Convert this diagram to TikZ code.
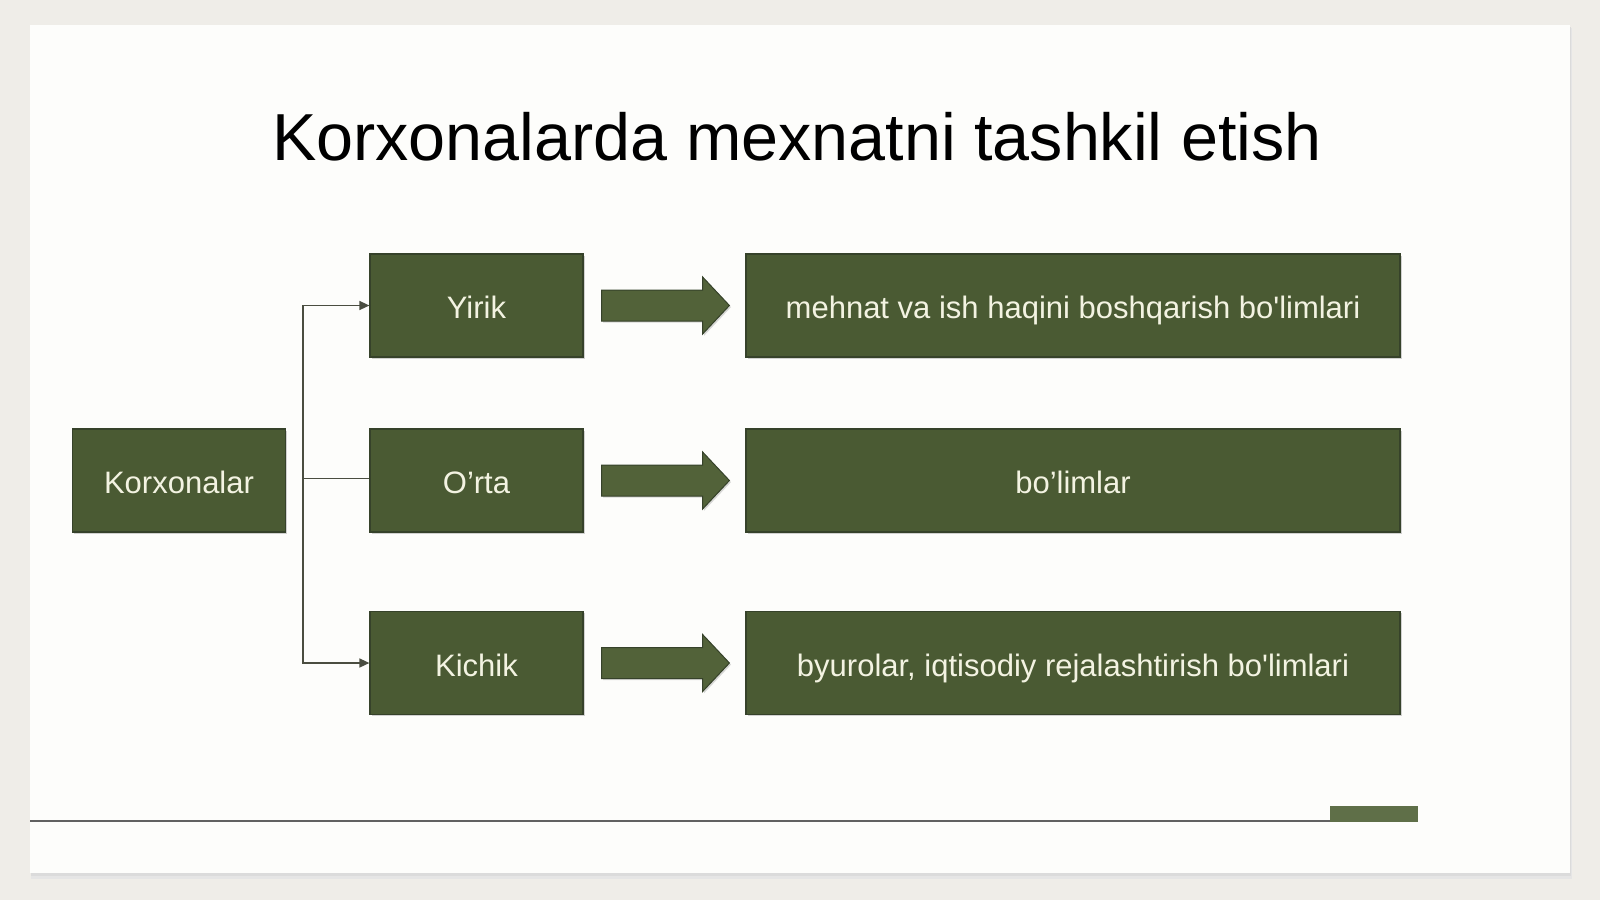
\documentclass[tikz,border=0pt]{standalone}
\usepackage{fontspec}
\setmainfont{Liberation Sans}
\usetikzlibrary{calc,shadows,arrows.meta}
\definecolor{pagebg}{HTML}{EFEDE8}
\definecolor{slidebg}{HTML}{FDFDFB}
\definecolor{boxfill}{HTML}{4A5A33}
\definecolor{boxline}{HTML}{36422A}
\definecolor{arrowfill}{HTML}{526239}
\definecolor{txtcream}{HTML}{F3F3E2}
\definecolor{connline}{HTML}{4A4D40}
\definecolor{accent}{HTML}{5F6F48}
\tikzset{
  greenbox/.style={rectangle, fill=boxfill, draw=boxline, line width=0.6pt,
    text=txtcream, font=\fontsize{15.5}{18}\selectfont, inner sep=0pt,
    text height=14pt, text depth=1pt,
    drop shadow={shadow xshift=0.8pt, shadow yshift=-0.8pt, opacity=0.35}},
  smallbox/.style={greenbox, minimum width=106.5pt, minimum height=51.5pt},
  widebox/.style={greenbox, minimum width=327pt, minimum height=51.5pt},
  conn/.style={draw=connline, line width=0.75pt},
  bigarrow/.style={fill=arrowfill, draw=boxline, line width=0.5pt,
    drop shadow={shadow xshift=0.8pt, shadow yshift=-0.8pt, opacity=0.3}},
}
\begin{document}
\begin{tikzpicture}[x=0.5pt,y=-0.5pt]
% page and slide
\fill[pagebg] (0,0) rectangle (1600,900);
\useasboundingbox (0,0) rectangle (1600,900);
\fill[black!10] (31,28) rectangle (1572,879);
\fill[black!14] (31,27) rectangle (1571,876);
\fill[slidebg] (30,25) rectangle (1570,873);
% title
\node[font=\fontsize{33.25}{40}\selectfont, text=black] (title) at (797,137) {Korxonalarda mexnatni tashkil etish};
% boxes
\node[smallbox] (korx) at (179,480.5) {Korxonalar};
\node[smallbox] (yirik) at (476.5,305.5) {Yirik};
\node[smallbox] (orta) at (476.5,480.5) {O’rta};
\node[smallbox] (kichik) at (476.5,663) {Kichik};
\node[widebox] (r1) at (1073,305.5) {mehnat va ish haqini boshqarish bo\textquotesingle limlari};
\node[widebox] (r2) at (1073,480.5) {bo’limlar};
\node[widebox] (r3) at (1073,663) {byurolar, iqtisodiy rejalashtirish bo\textquotesingle limlari};
% connectors
\coordinate (j) at ($(korx.east)+(17,-2)$);
\draw[conn,-{Triangle[length=5pt,width=4.5pt]}] (j) |- (yirik.west);
\draw[conn,-{Triangle[length=5pt,width=4.5pt]}] (j) |- (kichik.west);
\draw[conn] (j) -- (j -| orta.west);
% block arrows
\foreach \a/\b in {yirik/r1, orta/r2, kichik/r3}{
  \path[bigarrow] ($(\a.east)+(18,-15.5)$) -- ++(101,0) -- ++(0,-13)
    -- ($(\b.west)+(-16,0)$) -- ($(\a.east)+(119,28.5)$) -- ++(0,-13)
    -- ($(\a.east)+(18,15.5)$) -- cycle;
}
% footer
\draw[draw=black!62, line width=1pt] (30,821) -- (1330,821);
\fill[accent] (1330,806) rectangle (1418,822);
\end{tikzpicture}
\end{document}
